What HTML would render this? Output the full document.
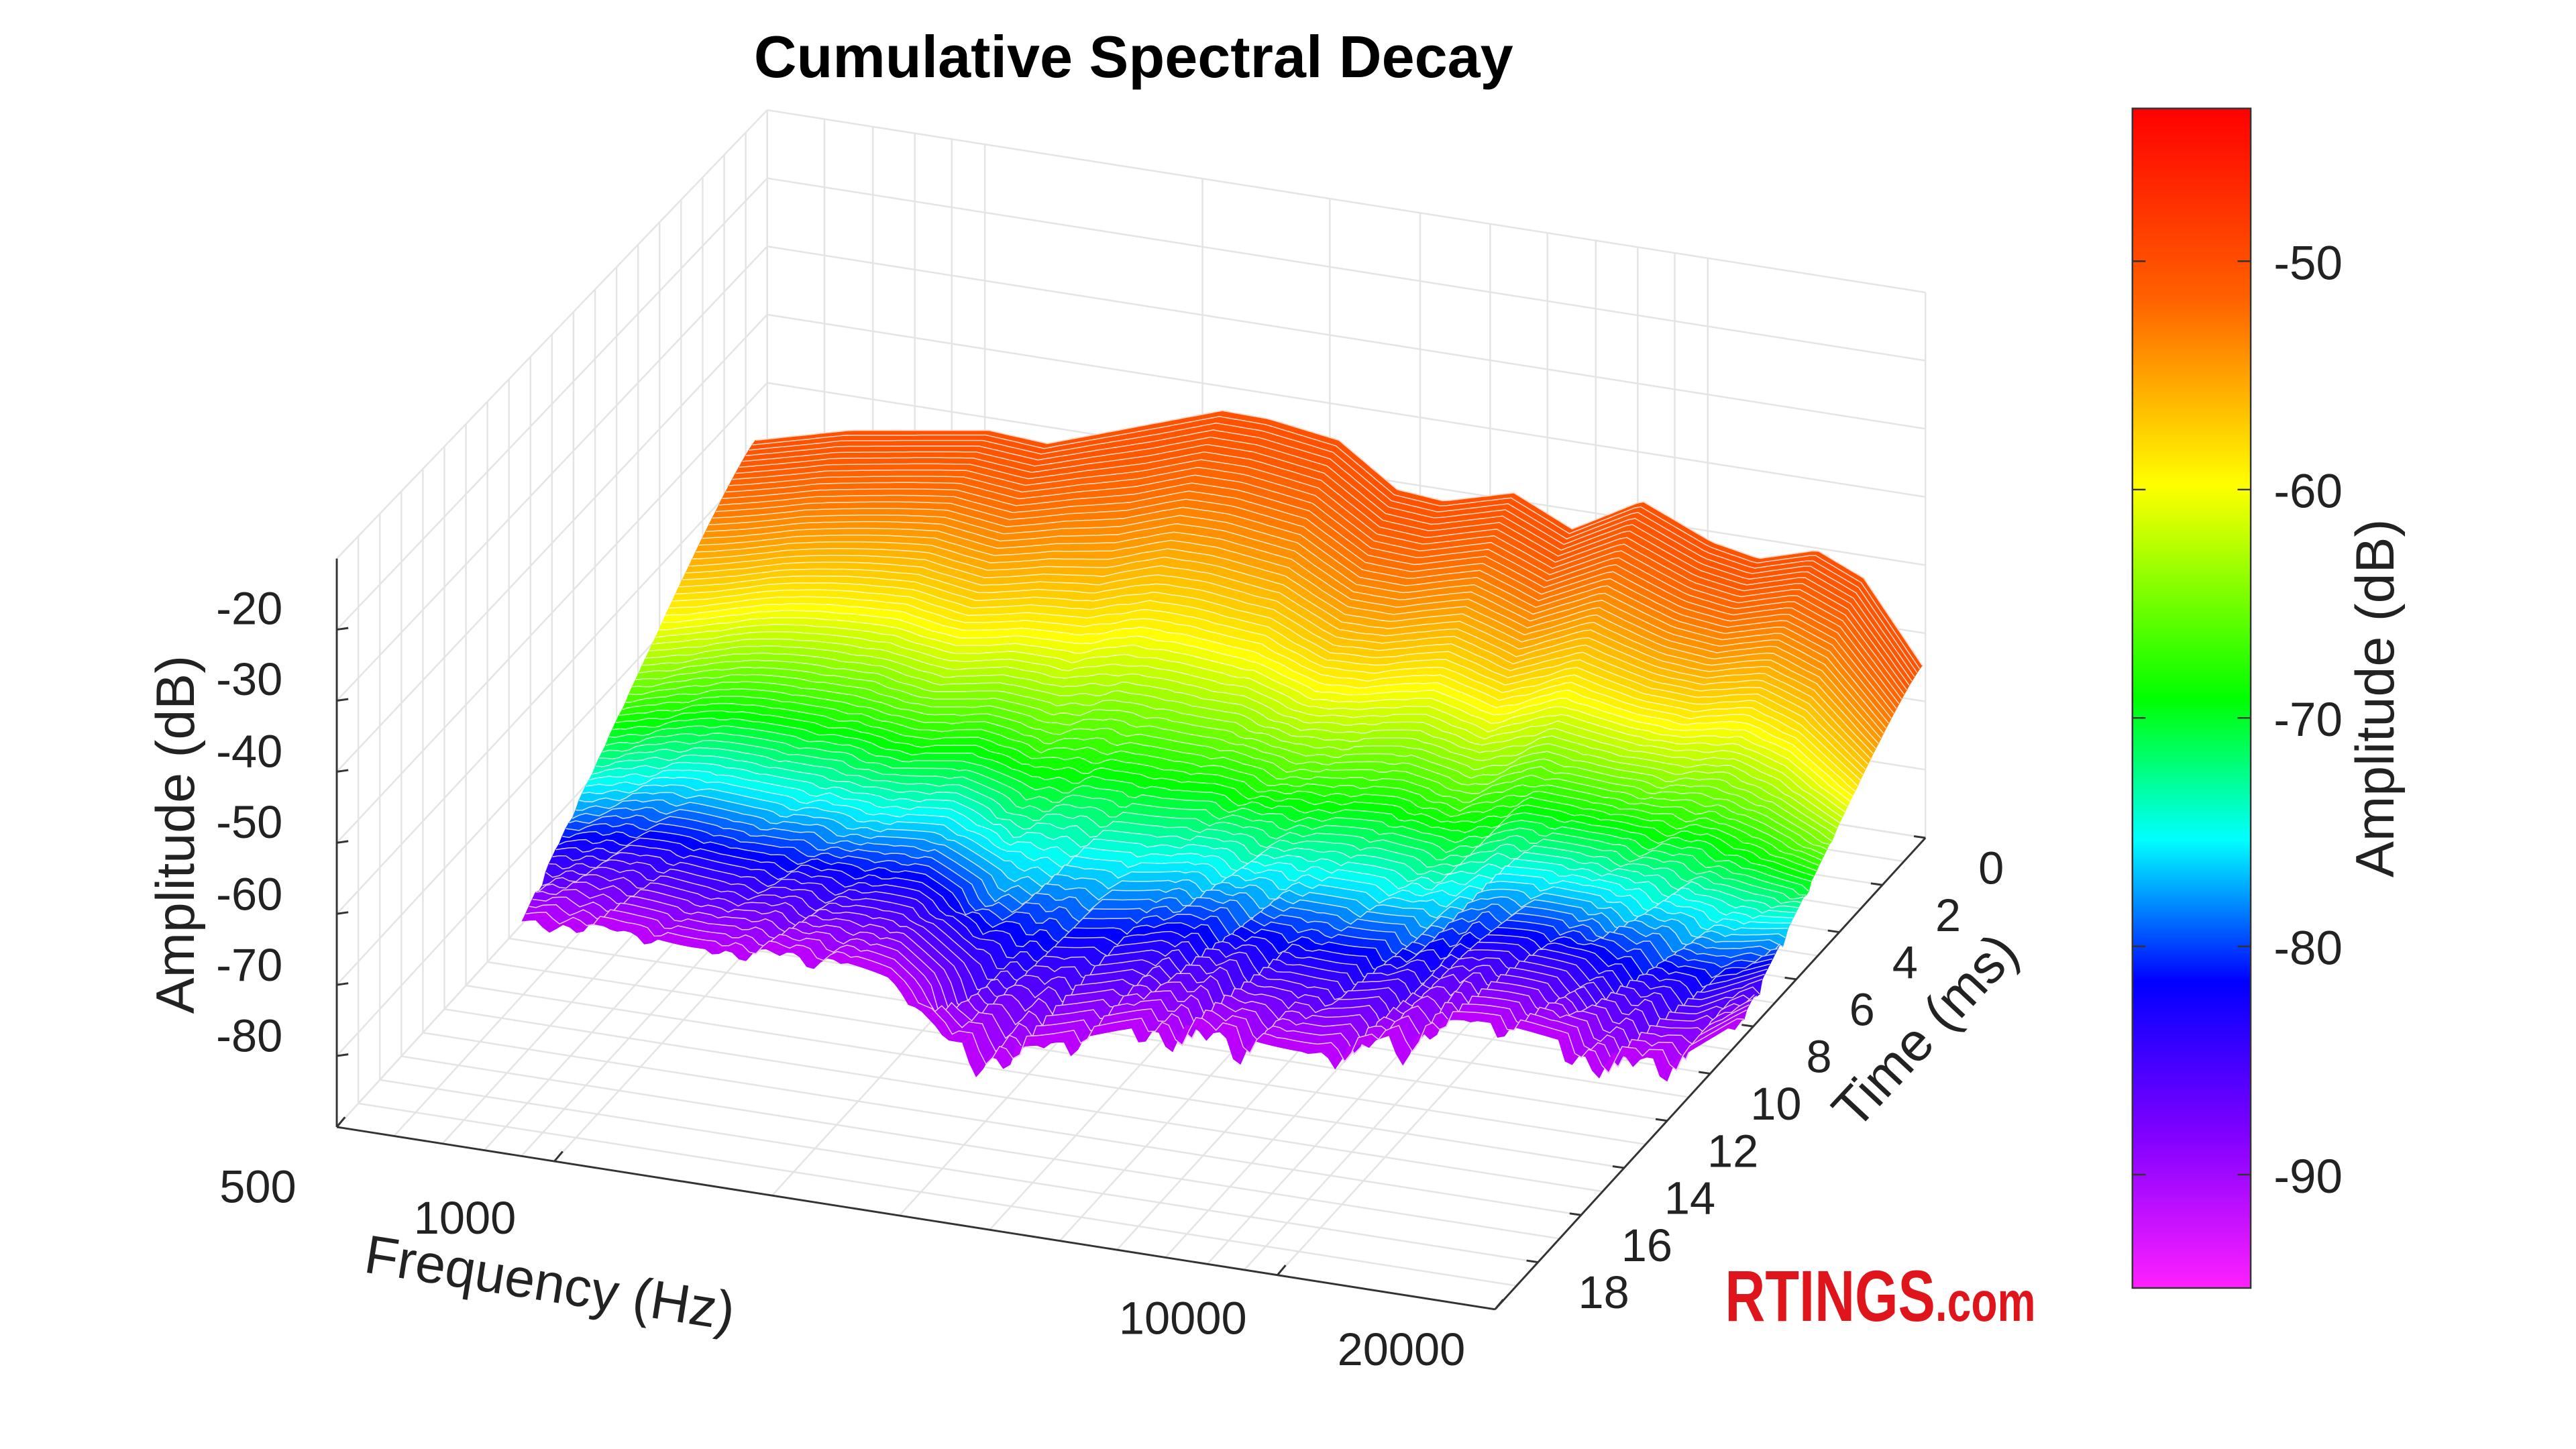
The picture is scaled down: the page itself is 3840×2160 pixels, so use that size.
<!DOCTYPE html>
<html><head><meta charset="utf-8"><style>
html,body{margin:0;padding:0;background:#fff;overflow:hidden;}
svg{display:block;}
text{font-family:"Liberation Sans",sans-serif;fill:#222;}
</style></head><body>
<svg id="s" width="3840" height="2160" viewBox="0 0 1568 882" xmlns="http://www.w3.org/2000/svg">
<defs>
<linearGradient id="cb" x1="0" y1="0" x2="0" y2="1">
<stop offset="0" stop-color="#ff0000"/><stop offset="0.16" stop-color="#ff6000"/>
<stop offset="0.32" stop-color="#ffff00"/><stop offset="0.5" stop-color="#00ff00"/>
<stop offset="0.62" stop-color="#00ffff"/><stop offset="0.74" stop-color="#0000ff"/>
<stop offset="0.87" stop-color="#8000ff"/><stop offset="1" stop-color="#ff20ff"/>
</linearGradient>
</defs>
<g id="grid" stroke="#e4e4e4" stroke-width="1" fill="none"></g>
<g id="surf"></g>
<g id="axes" stroke="#333" stroke-width="1.2" fill="none"></g>
<text x="690" y="47" text-anchor="middle" font-size="36" font-weight="bold" style="fill:#000">Cumulative Spectral Decay</text>
<rect x="1298" y="66" width="72" height="718" fill="url(#cb)" stroke="#333" stroke-width="1"/>
<g font-size="29">
<text x="1384" y="170">-50</text><text x="1384" y="309">-60</text><text x="1384" y="448">-70</text><text x="1384" y="587">-80</text><text x="1384" y="726">-90</text>
</g>
<g stroke="#333" stroke-width="1">
<line x1="1298" y1="159" x2="1306" y2="159"/><line x1="1370" y1="159" x2="1362" y2="159"/>
<line x1="1298" y1="298" x2="1306" y2="298"/><line x1="1370" y1="298" x2="1362" y2="298"/>
<line x1="1298" y1="437" x2="1306" y2="437"/><line x1="1370" y1="437" x2="1362" y2="437"/>
<line x1="1298" y1="576" x2="1306" y2="576"/><line x1="1370" y1="576" x2="1362" y2="576"/>
<line x1="1298" y1="715" x2="1306" y2="715"/><line x1="1370" y1="715" x2="1362" y2="715"/>
</g>
<text transform="translate(1457,425) rotate(-90)" text-anchor="middle" font-size="33">Amplitude (dB)</text>
<g font-size="28" text-anchor="end">
<text x="172" y="380">-20</text><text x="172" y="423">-30</text><text x="172" y="467">-40</text><text x="172" y="510">-50</text><text x="172" y="554">-60</text><text x="172" y="597">-70</text><text x="172" y="640">-80</text>
</g>
<text transform="translate(118,508) rotate(-90)" text-anchor="middle" font-size="33">Amplitude (dB)</text>
<g font-size="28" text-anchor="middle">
<text x="157" y="732">500</text><text x="283" y="751">1000</text><text x="720" y="812">10000</text><text x="853" y="831">20000</text>
</g>
<text transform="translate(333,792) rotate(9)" text-anchor="middle" font-size="33">Frequency (Hz)</text>
<g font-size="28" text-anchor="middle" id="tlab"></g>
<text transform="translate(1180,635) rotate(-47)" text-anchor="middle" font-size="33">Time (ms)</text>
<text x="1050" y="804" font-size="44" font-weight="bold" style="fill:#e0151b" transform="translate(1050,0) scale(0.77,1) translate(-1050,0)">RTINGS<tspan font-size="34">.com</tspan></text>
</svg>
<script>
(function(){
var NS="http://www.w3.org/2000/svg";
function el(p,n,a){var e=document.createElementNS(NS,n);for(var k in a)e.setAttribute(k,a[k]);p.appendChild(e);return e;}
var grid=document.getElementById('grid'),axes=document.getElementById('axes'),surf=document.getElementById('surf'),tlab=document.getElementById('tlab');
function P(f,tb,z){var x=205+705*f+262*tb, y=686+111*f-287*tb; var sc=346-14*tb; y-= (z+90)/80*sc; return [x,y];}
function fr(hz){return Math.log(hz/500)/Math.log(40);}
function L(g,a,b){el(g,'line',{x1:a[0],y1:a[1],x2:b[0],y2:b[1]});}
var freqs=[];[500,600,700,800,900,1000,2000,3000,4000,5000,6000,7000,8000,9000,10000,20000].forEach(function(h){freqs.push(fr(h));});
freqs.forEach(function(f){L(grid,P(f,0,-90),P(f,1,-90));L(grid,P(f,1,-90),P(f,1,-10));});
for(var t=0;t<=20;t++){var tb=1-t/20;L(grid,P(0,tb,-90),P(1,tb,-90));L(grid,P(0,tb,-90),P(0,tb,-10));}
for(var z=-90;z<=-10;z+=10){L(grid,P(0,0,z),P(0,1,z));L(grid,P(0,1,z),P(1,1,z));}
L(axes,P(0,0,-90),P(1,0,-90));L(axes,P(1,0,-90),P(1,1,-90));L(axes,P(0,0,-90),P(0,0,-10));
[500,1000,10000,20000].forEach(function(h){var a=P(fr(h),0,-90);L(axes,a,[a[0]+5,a[1]-6]);});
for(var z=-80;z<=-20;z+=10){var a=P(0,0,z);L(axes,a,[a[0]+7,a[1]-1]);}
for(var t=0;t<=18;t+=2){var a=P(1,1-t/20,-90);L(axes,a,[a[0]-7,a[1]-1]);
 var tx=el(tlab,'text',{x:a[0]+40,y:a[1]+28});tx.textContent=t;}
function pw(pts,x){for(var i=0;i<pts.length-1;i++){if(x<=pts[i+1][0]){var a=pts[i],b=pts[i+1];return a[1]+(b[1]-a[1])*(x-a[0])/(b[0]-a[0]);}}return pts[pts.length-1][1];}
var B=[[0,268],[0.08,262],[0.2,262],[0.25,270],[0.34,258],[0.4,250],[0.44,255],[0.5,268],[0.55,298],[0.59,305],[0.65,300],[0.7,322],[0.76,305],[0.82,330],[0.86,340],[0.91,335],[0.95,352],[1,405]];
var F=[[0,565],[0.1,568],[0.2,575],[0.3,600],[0.35,632],[0.45,630],[0.55,630],[0.65,635],[0.75,625],[0.85,632],[0.95,640],[1,625]];
function hue(fr){var s=[[0,0],[0.16,22],[0.32,60],[0.5,120],[0.62,180],[0.74,240],[0.87,270],[1,300]];return pw(s,fr);}
var M=70,N=180,curves=[];
for(var i=0;i<=M;i++){var t=i/M,c=[];
 for(var j=0;j<=N;j++){var u=j/N;
  var bx=460+710*u, fx=318+742*u; var x=bx+(fx-bx)*t;
  var by=pw(B,u), fy=pw(F,u); var g=Math.pow(t,1.1);
  var y=by+(fy-by)*g;
  var n=Math.sin(u*90+i*0.7)*0.5+Math.sin(u*233+i*1.3)*0.5+Math.sin(u*37)*0.4;
  y+= Math.pow(t,3)*(u>0.33?16:7)*Math.max(0,n) + t*6*Math.sin(u*25+t*4);
  c.push([x,y]);}
 curves.push(c);}
for(var i=0;i<M;i++){var a=curves[i],b=curves[i+1],d='M';
 for(var j=0;j<=N;j++)d+=a[j][0].toFixed(1)+','+a[j][1].toFixed(1)+' ';
 for(var j=N;j>=0;j--)d+=b[j][0].toFixed(1)+','+b[j][1].toFixed(1)+' ';
 var tt=(i+0.5)/M;
 var fr2=0.14+0.8*Math.pow(tt,1.6);
 var h=hue(fr2).toFixed(0);
 el(surf,'path',{d:d+'Z',fill:'hsl('+h+',100%,50%)',stroke:'hsl('+h+',100%,50%)','stroke-width':0.6});
 var dl='M';for(var j=0;j<=N;j++)dl+=a[j][0].toFixed(1)+','+a[j][1].toFixed(1)+' ';
 el(surf,'path',{d:dl,fill:'none',stroke:'#fff','stroke-width':0.6,'stroke-opacity':0.8});}
})();
</script>
</body></html>
